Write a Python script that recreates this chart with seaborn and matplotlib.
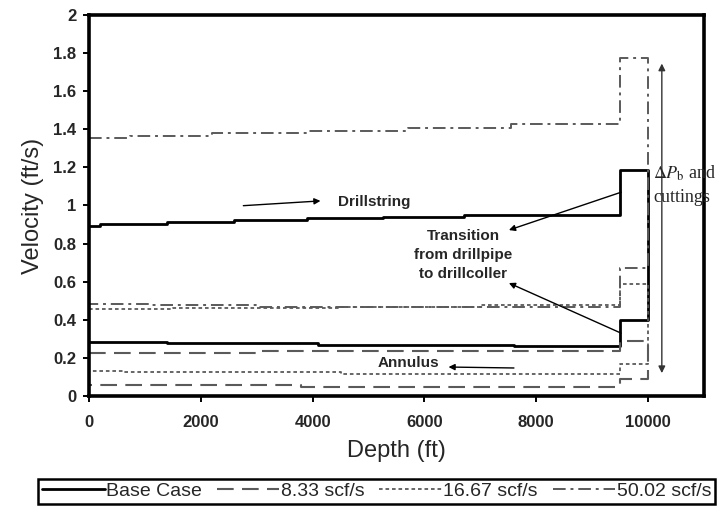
import numpy as np
import pandas as pd
import matplotlib
matplotlib.use("Agg")
import matplotlib.pyplot as plt
from matplotlib.lines import Line2D
from matplotlib.ticker import FuncFormatter
import seaborn as sns

# Well geometry (ft)
PIPE_END = 9500    # bottom of drillpipe / top of drill collars
BIT_DEPTH = 10000  # bit

cases = ["Base Case", "8.33 scf/s", "16.67 scf/s", "50.02 scf/s"]

# Base case: stepwise velocities inside drillpipe, collars, and annulus
base_ds_depth = [0, 200, 1400, 2600, 3900, 5250, 6700, 9500]
base_ds_vel = [0.89, 0.905, 0.915, 0.925, 0.935, 0.942, 0.95]
base_dc_vel = 1.185
base_ann_dc_vel = 0.40
base_ann_depth = [0, 1400, 4100, 7600, 9500]
base_ann_vel = [0.285, 0.277, 0.27, 0.265]

# 8.33 scf/s gas injection
g833_ds_depth = [0, 3000, 9500]
g833_ds_vel = [0.228, 0.234]
g833_dc_vel = 0.29
g833_ann_dc_vel = 0.09
g833_ann_depth = [0, 3800, 9500]
g833_ann_vel = [0.058, 0.049]

# 16.67 scf/s gas injection
g1667_ds_depth = [0, 1500, 4500, 7000, 9500]
g1667_ds_vel = [0.455, 0.46, 0.468, 0.476]
g1667_dc_vel = 0.59
g1667_ann_dc_vel = 0.17
g1667_ann_depth = [0, 600, 4500, 9500]
g1667_ann_vel = [0.133, 0.128, 0.115]

# 50.02 scf/s gas injection
g5002_ds_depth = [0, 730, 2200, 3900, 5700, 7550, 9500]
g5002_ds_vel = [1.352, 1.365, 1.378, 1.39, 1.405, 1.428]
g5002_dc_vel = 1.775
g5002_ann_dc_vel = 0.67
g5002_ann_depth = [0, 1100, 3000, 9500]
g5002_ann_vel = [0.483, 0.475, 0.467]


def circulation_path(ds_depth, ds_vel, dc_vel, ann_dc_vel, ann_depth, ann_vel):
    """Down the drillstring, through the collars to the bit, back up the annulus."""
    xs, ys = [], []
    for i, v in enumerate(ds_vel):
        xs += [ds_depth[i], ds_depth[i + 1]]
        ys += [v, v]
    xs += [PIPE_END, BIT_DEPTH]
    ys += [dc_vel, dc_vel]
    xs += [BIT_DEPTH, PIPE_END]
    ys += [ann_dc_vel, ann_dc_vel]
    for i in reversed(range(len(ann_vel))):
        xs += [ann_depth[i + 1], ann_depth[i]]
        ys += [ann_vel[i], ann_vel[i]]
    return xs, ys


series = {
    "Base Case": (base_ds_depth, base_ds_vel, base_dc_vel, base_ann_dc_vel, base_ann_depth, base_ann_vel),
    "8.33 scf/s": (g833_ds_depth, g833_ds_vel, g833_dc_vel, g833_ann_dc_vel, g833_ann_depth, g833_ann_vel),
    "16.67 scf/s": (g1667_ds_depth, g1667_ds_vel, g1667_dc_vel, g1667_ann_dc_vel, g1667_ann_depth, g1667_ann_vel),
    "50.02 scf/s": (g5002_ds_depth, g5002_ds_vel, g5002_dc_vel, g5002_ann_dc_vel, g5002_ann_depth, g5002_ann_vel),
}

frames = []
for case in cases:
    xs, ys = circulation_path(*series[case])
    frames.append(pd.DataFrame({"Depth": xs, "Velocity": ys, "Case": case,
                                "order": np.arange(len(xs))}))
df = pd.concat(frames, ignore_index=True)

styles = {
    "Base Case": dict(color="black", linewidth=2.0, linestyle="-"),
    "8.33 scf/s": dict(color="#5a5a5a", linewidth=1.5, linestyle=(0, (8, 4))),
    "16.67 scf/s": dict(color="#5a5a5a", linewidth=1.3, linestyle=(0, (2, 1.6))),
    "50.02 scf/s": dict(color="#5a5a5a", linewidth=1.4, linestyle=(0, (6.5, 2.5, 1.5, 2.5))),
}

sns.set_style("ticks")
plt.rcParams["font.family"] = ["Liberation Sans", "DejaVu Sans"]
plt.rcParams["mathtext.fontset"] = "stix"

fig = plt.figure(figsize=(7.19, 5.08), dpi=100)
ax = fig.add_axes([0.1238, 0.2205, 0.8554, 0.75])

for case in cases:
    sub = df[df["Case"] == case]
    sns.lineplot(data=sub, x="Depth", y="Velocity", sort=False, estimator=None,
                 legend=False, ax=ax, **styles[case])

ax.set_xlim(0, 11000)
ax.set_ylim(0, 2)
ax.set_xticks(np.arange(0, 10001, 2000))
ax.set_yticks(np.round(np.arange(0, 2.01, 0.2), 1))
ax.yaxis.set_major_formatter(FuncFormatter(lambda v, _: f"{v:g}"))
ax.tick_params(axis="both", direction="out", length=4, width=1.4, labelsize=12, color="black")
ax.tick_params(axis="x", pad=10)
ax.tick_params(axis="y", pad=5)
for lab in ax.get_xticklabels() + ax.get_yticklabels():
    lab.set_fontweight("bold")
for sp in ax.spines.values():
    sp.set_visible(True)
    sp.set_linewidth(2.6)
    sp.set_color("black")

ax.set_xlabel("Depth (ft)", fontsize=17, labelpad=7)
ax.set_ylabel("Velocity (ft/s)", fontsize=17, labelpad=7)

# Annotations
arrow_kw = dict(arrowstyle="-|>", color="black", lw=1.0, mutation_scale=9,
                shrinkA=0, shrinkB=0)
ax.annotate("", xy=(4140, 1.024), xytext=(2760, 0.999), arrowprops=arrow_kw)
ax.text(4450, 1.02, "Drillstring", ha="left", va="center", fontsize=11, fontweight="bold")

ax.text(6690, 0.74, "Transition\nfrom drillpipe\nto drillcoller", ha="center", va="center",
        fontsize=11, fontweight="bold", linespacing=1.45)
ax.annotate("", xy=(7510, 0.871), xytext=(9520, 1.07), arrowprops=arrow_kw)
ax.annotate("", xy=(7510, 0.593), xytext=(9515, 0.33), arrowprops=arrow_kw)

ax.text(5160, 0.175, "Annulus", ha="left", va="center", fontsize=11, fontweight="bold")
ax.annotate("", xy=(6430, 0.152), xytext=(7600, 0.147), arrowprops=arrow_kw)

ax.annotate("", xy=(10245, 1.745), xytext=(10245, 0.12),
            arrowprops=dict(arrowstyle="<|-|>", color="#333333", lw=1.0,
                            mutation_scale=10, shrinkA=0, shrinkB=0))
ax.text(10090, 1.17, r"$\Delta P_{\mathrm{b}}$ and", ha="left", va="center", fontsize=13,
        family=["Liberation Serif", "DejaVu Serif"])
ax.text(10090, 1.04, "cuttings", ha="left", va="center", fontsize=13,
        family=["Liberation Serif", "DejaVu Serif"])

handles = [Line2D([0], [0], **styles[c]) for c in cases]
leg = fig.legend(handles, cases, loc="center", bbox_to_anchor=(0.524, 0.033), ncol=4,
                 frameon=True, fancybox=False, edgecolor="black", framealpha=1,
                 fontsize=14, handlelength=3.2, handletextpad=0.1, columnspacing=0.75,
                 borderpad=0.2, borderaxespad=0)
leg.get_frame().set_linewidth(1.8)

fig.savefig("out.png", dpi=100, facecolor="white")
